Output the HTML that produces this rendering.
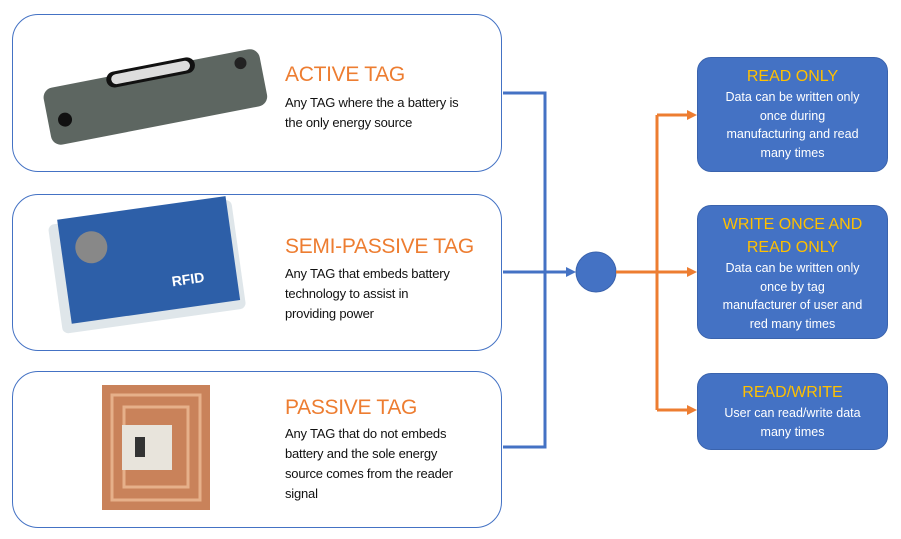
<!DOCTYPE html>
<html><head><style>
body{margin:0;width:901px;height:539px;background:#fff;position:relative;overflow:hidden;font-family:"Liberation Sans",sans-serif}
.lb{position:absolute;left:12px;width:490px;border:1.5px solid #4472C4;border-radius:26px;box-sizing:border-box;background:#fff}
.t{position:absolute;left:285px;color:#ED7D31;font-size:21px;letter-spacing:-0.3px}
.d{position:absolute;left:285px;font-size:13px;line-height:20px;color:#111;letter-spacing:-0.2px}
.rb{position:absolute;left:697px;width:191px;background:#4472C4;border:1px solid #3a63ad;border-radius:14px;box-sizing:border-box;color:#fff;text-align:center;font-size:12.5px;line-height:18.5px;padding-top:9px}
.rb b{font-weight:normal;color:#FFC000;font-size:16px;line-height:23px;display:block}
</style></head><body>
<div class="lb" style="top:14px;height:158px"></div>
<div class="lb" style="top:194px;height:157px"></div>
<div class="lb" style="top:371px;height:157px"></div>

<svg style="position:absolute;left:0;top:0" width="901" height="539">
<g transform="rotate(-11 155 95)">
<rect x="45" y="68" width="220" height="58" rx="10" fill="#5d6661"/>
<rect x="110" y="64" width="90" height="16" rx="8" fill="#111"/>
<rect x="115" y="67" width="80" height="10" rx="5" fill="#ddd"/>
<circle cx="62" cy="102" r="7" fill="#111"/><circle cx="245" cy="80" r="6" fill="#222"/>
</g>
<g transform="rotate(-8 145 270)">
<rect x="55" y="212" width="185" height="110" rx="6" fill="#dfe6ea"/>
<rect x="65" y="208" width="170" height="105" fill="#2d5fa8"/>
<circle cx="95" cy="240" r="16" fill="#888"/>
<text x="170" y="290" fill="#fff" font-size="14" font-weight="bold">RFID</text>
</g>
<rect x="102" y="385" width="108" height="125" fill="#c9825a"/>
<rect x="112" y="395" width="88" height="105" fill="none" stroke="#e6b08a" stroke-width="3"/>
<rect x="124" y="407" width="64" height="80" fill="none" stroke="#e6b08a" stroke-width="3"/>
<rect x="122" y="425" width="50" height="45" fill="#e8e4dc"/>
<rect x="135" y="437" width="10" height="20" fill="#333"/>

<g stroke="#4472C4" stroke-width="3" fill="none">
<path d="M503 93H545V447H503"/>
<path d="M503 272H568"/>
</g>
<polygon points="576,272 566,267 566,277" fill="#4472C4"/>
<circle cx="596" cy="272" r="20" fill="#4472C4" stroke="#3a63ad"/>
<g stroke="#ED7D31" stroke-width="3" fill="none">
<path d="M616 272H688"/><path d="M657 115V410"/>
<path d="M657 115H688"/><path d="M657 410H688"/>
</g>
<g fill="#ED7D31">
<polygon points="697,115 687,110 687,120"/>
<polygon points="697,272 687,267 687,277"/>
<polygon points="697,410 687,405 687,415"/>
</g>
</svg>

<div class="t" style="top:63px">ACTIVE TAG</div>
<div class="d" style="top:93px">Any TAG where the a battery is<br>the only energy source</div>
<div class="t" style="top:235px">SEMI-PASSIVE TAG</div>
<div class="d" style="top:264px">Any TAG that embeds battery<br>technology to assist in<br>providing power</div>
<div class="t" style="top:396px">PASSIVE TAG</div>
<div class="d" style="top:424px">Any TAG that do not embeds<br>battery and the sole energy<br>source comes from the reader<br>signal</div>

<div class="rb" style="top:57px;height:115px;padding-top:7px"><b>READ ONLY</b>Data can be written only<br>once during<br>manufacturing and read<br>many times</div>
<div class="rb" style="top:205px;height:134px;padding-top:7px"><b>WRITE ONCE AND<br>READ ONLY</b>Data can be written only<br>once by tag<br>manufacturer of user and<br>red many times</div>
<div class="rb" style="top:373px;height:77px;padding-top:7px"><b>READ/WRITE</b>User can read/write data<br>many times</div>
</body></html>
